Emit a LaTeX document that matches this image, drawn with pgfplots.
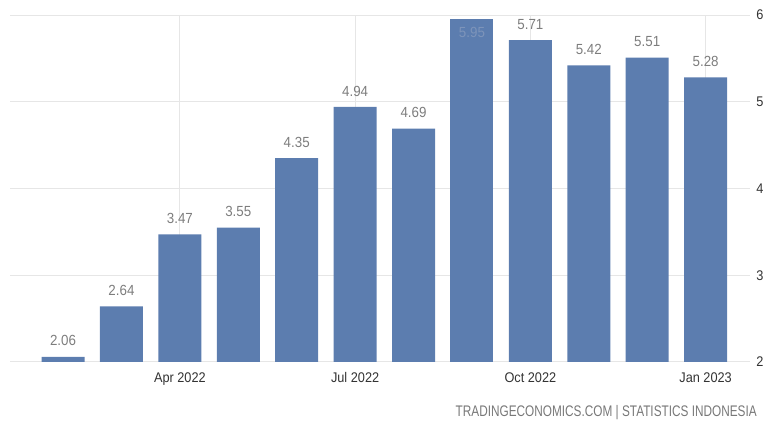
\documentclass[border=0pt]{standalone}
\usepackage{fontspec}
\setmainfont{Liberation Sans}[FakeStretch=0.91]
\newfontfamily\footfont{Liberation Sans}[FakeStretch=0.77]
\usepackage{pgfplots}
\pgfplotsset{compat=1.18}
\definecolor{barblue}{RGB}{92,125,175}
\definecolor{valgray}{RGB}{125,125,125}
\definecolor{tickdark}{RGB}{51,51,51}
\definecolor{gridgray}{RGB}{230,230,230}
\definecolor{inlabel}{RGB}{125,148,186}
\definecolor{footgray}{RGB}{120,120,120}
\begin{document}
\begin{tikzpicture}
\begin{axis}[
  scale only axis, width=555pt, height=260.25pt,
  xmin=-0.908, xmax=11.76, ymin=2, ymax=6,
  axis line style={draw=none},
  ybar, bar width=0.736,
  clip=false,
  xtick={2,5,8,11},
  xticklabels={Apr 2022, Jul 2022, Oct 2022, Jan 2023},
  ytick={2,3,4,5,6},
  yticklabels={2,3,4,5,6},
  yticklabel pos=right,
  major tick length=0pt,
  xmajorgrids, ymajorgrids,
  grid style={gridgray, line width=0.75pt},
  xticklabel style={anchor=north, inner sep=0pt, yshift=-7.5pt, font=\fontsize{10.5}{12}\selectfont, text=tickdark},
  yticklabel style={anchor=west, inner sep=0pt, xshift=4.6pt, font=\fontsize{10.5}{12}\selectfont, text=tickdark},
  /pgf/number format/assume math mode=true,
]
\addplot[fill=barblue, draw=none, bar shift=0pt, nodes near coords,
  /pgf/number format/fixed, /pgf/number format/precision=2, /pgf/number format/fixed zerofill,
  every node near coord/.append style={anchor=center, yshift=12pt, font=\fontsize{11}{13}\selectfont, text=valgray}]
  coordinates {(0,2.06) (1,2.64) (2,3.47) (3,3.55) (4,4.35) (5,4.94) (6,4.69) (8,5.71) (9,5.42) (10,5.51) (11,5.28)};
\addplot[fill=barblue, draw=none, bar shift=0pt, nodes near coords,
  /pgf/number format/fixed, /pgf/number format/precision=2, /pgf/number format/fixed zerofill,
  every node near coord/.append style={anchor=center, yshift=-9.75pt, font=\fontsize{11}{13}\selectfont, text=inlabel}]
  coordinates {(7,5.95)};
\end{axis}
\node[anchor=east, inner sep=0pt, text=footgray] at (560.25pt,-38.25pt) {\footfont\fontsize{11.5}{13}\selectfont TRADINGECONOMICS.COM | STATISTICS INDONESIA};
\pgfresetboundingbox
\useasboundingbox (-7.5pt,-47.25pt) rectangle (566.25pt,271.5pt);
\end{tikzpicture}
\end{document}
